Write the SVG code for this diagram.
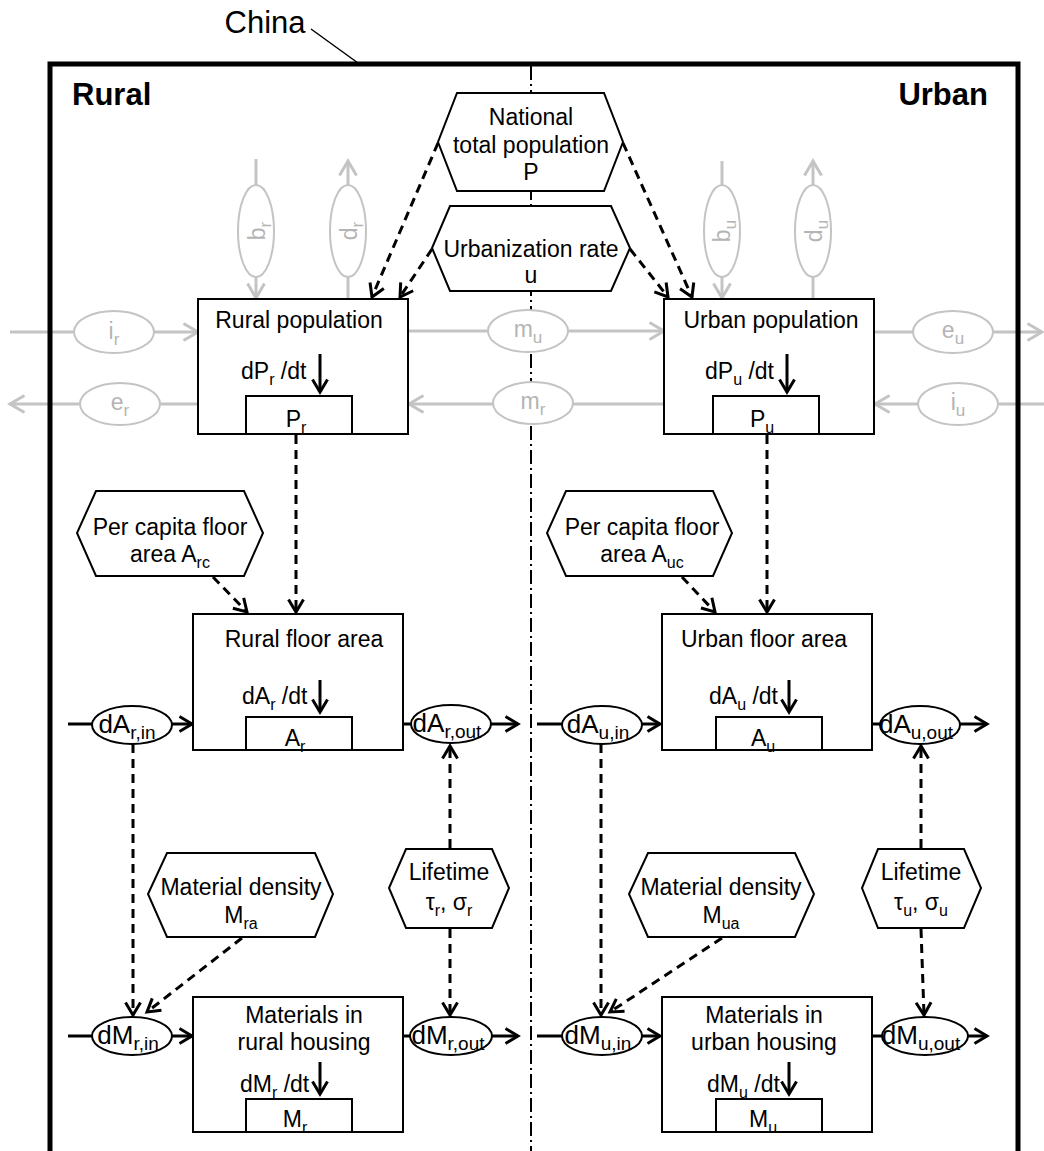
<svg xmlns="http://www.w3.org/2000/svg" width="1044" height="1151" viewBox="0 0 1044 1151">
<style>
text{font-family:"Liberation Sans",Arial,sans-serif;font-size:23px;fill:#000}
.c{text-anchor:middle}
.b{font-weight:bold;font-size:31px}
.gt{fill:#b4b4b4}
.el{font-size:26px}
.box{fill:#fff;stroke:#000;stroke-width:2}
.hex{fill:#fff;stroke:#000;stroke-width:2}
.be{fill:#fff;stroke:#000;stroke-width:2}
.ge{fill:#fff;stroke:#c4c4c4;stroke-width:2}
.gl{fill:none;stroke:#c4c4c4;stroke-width:3}
.fl{fill:none;stroke:#000;stroke-width:3}
.da{fill:none;stroke:#000;stroke-width:3;stroke-dasharray:9 6}
</style>
<defs>
<marker id="ak" viewBox="0 0 16 18" refX="14" refY="9" markerWidth="16" markerHeight="18" orient="auto" markerUnits="userSpaceOnUse" overflow="visible"><path d="M1.5,1.5 L14,9 L1.5,16.5" fill="none" stroke="#000" stroke-width="3" stroke-dasharray="none"/></marker>
<marker id="ag" viewBox="0 0 18 20" refX="16" refY="10" markerWidth="18" markerHeight="20" orient="auto" markerUnits="userSpaceOnUse" overflow="visible"><path d="M1.5,1.5 L16,10 L1.5,18.5" fill="none" stroke="#c4c4c4" stroke-width="3"/></marker>
</defs>
<rect width="1044" height="1151" fill="#fff"/>

<!-- center divider -->
<line x1="531" y1="66" x2="531" y2="1151" stroke="#000" stroke-width="2" stroke-dasharray="14 4 2 4"/>

<g id="connectors">
  <!-- gray population flows -->
  <line class="gl" x1="10" y1="332" x2="198" y2="332" marker-end="url(#ag)"/>
  <line class="gl" x1="198" y1="404" x2="10" y2="404" marker-end="url(#ag)"/>
  <line class="gl" x1="408" y1="331" x2="664" y2="331" marker-end="url(#ag)"/>
  <line class="gl" x1="664" y1="404" x2="409" y2="404" marker-end="url(#ag)"/>
  <line class="gl" x1="874" y1="332" x2="1042" y2="332" marker-end="url(#ag)"/>
  <line class="gl" x1="1044" y1="404" x2="875" y2="404" marker-end="url(#ag)"/>
  <line class="gl" x1="256" y1="159" x2="256" y2="298" marker-end="url(#ag)"/>
  <line class="gl" x1="348" y1="299" x2="348" y2="161" marker-end="url(#ag)"/>
  <line class="gl" x1="722" y1="161" x2="722" y2="298" marker-end="url(#ag)"/>
  <line class="gl" x1="813" y1="299" x2="813" y2="161" marker-end="url(#ag)"/>
  <!-- dashed info links -->
  <line class="da" x1="438" y1="143" x2="372" y2="297" marker-end="url(#ak)"/>
  <line class="da" x1="432" y1="249" x2="400" y2="297" marker-end="url(#ak)"/>
  <line class="da" x1="623" y1="143" x2="692" y2="297" marker-end="url(#ak)"/>
  <line class="da" x1="630" y1="249" x2="668" y2="297" marker-end="url(#ak)"/>
  <line class="da" x1="296" y1="435" x2="296" y2="612" marker-end="url(#ak)"/>
  <line class="da" x1="213" y1="577" x2="247" y2="612" marker-end="url(#ak)"/>
  <line class="da" x1="767" y1="435" x2="767" y2="612" marker-end="url(#ak)"/>
  <line class="da" x1="682" y1="577" x2="715" y2="612" marker-end="url(#ak)"/>
  <line class="da" x1="133" y1="744" x2="133" y2="1015" marker-end="url(#ak)"/>
  <line class="da" x1="242" y1="938" x2="147" y2="1012" marker-end="url(#ak)"/>
  <line class="da" x1="450" y1="848" x2="450" y2="746" marker-end="url(#ak)"/>
  <line class="da" x1="450" y1="929" x2="450" y2="1015" marker-end="url(#ak)"/>
  <line class="da" x1="601" y1="744" x2="601" y2="1015" marker-end="url(#ak)"/>
  <line class="da" x1="722" y1="938" x2="610" y2="1012" marker-end="url(#ak)"/>
  <line class="da" x1="921" y1="848" x2="921" y2="746" marker-end="url(#ak)"/>
  <line class="da" x1="921" y1="929" x2="924" y2="1015" marker-end="url(#ak)"/>
  <!-- black material flows -->
  <line class="fl" x1="68" y1="724" x2="192" y2="724" marker-end="url(#ak)"/>
  <line class="fl" x1="403" y1="724" x2="518" y2="724" marker-end="url(#ak)"/>
  <line class="fl" x1="537" y1="724" x2="660" y2="724" marker-end="url(#ak)"/>
  <line class="fl" x1="872" y1="724" x2="987" y2="724" marker-end="url(#ak)"/>
  <line class="fl" x1="68" y1="1036" x2="192" y2="1036" marker-end="url(#ak)"/>
  <line class="fl" x1="403" y1="1036" x2="518" y2="1036" marker-end="url(#ak)"/>
  <line class="fl" x1="537" y1="1036" x2="660" y2="1036" marker-end="url(#ak)"/>
  <line class="fl" x1="872" y1="1036" x2="987" y2="1036" marker-end="url(#ak)"/>
</g>

<!-- China frame -->
<g id="china">
  <path d="M50,1151 V64 H1018 V1151" fill="none" stroke="#000" stroke-width="5"/>
  <line x1="311" y1="29" x2="358" y2="63" stroke="#000" stroke-width="1.5"/>
  <text x="265" y="33" class="c" style="font-size:31px">China</text>
  <text x="72" y="105" class="b">Rural</text>
  <text x="988" y="105" class="b" text-anchor="end">Urban</text>
</g>

<g id="national-population">
  <polygon class="hex" points="457,93 604,93 623,142 604,191 457,191 438,142"/>
  <text x="531" y="125" class="c">National</text>
  <text x="531" y="153" class="c">total population</text>
  <text x="531" y="180" class="c">P</text>
</g>
<g id="urbanization-rate">
  <polygon class="hex" points="450,206 611,206 630,248 611,291 450,291 432,248"/>
  <text x="531" y="257" class="c">Urbanization rate</text>
  <text x="531" y="283" class="c">u</text>
</g>

<g id="rural-population">
  <rect class="box" x="198" y="299" width="210" height="135"/>
  <rect class="box" x="246" y="396" width="106" height="38"/>
  <line class="fl" x1="320" y1="354" x2="320" y2="392" marker-end="url(#ak)"/>
  <text x="299" y="328" class="c">Rural population</text>
  <text x="241" y="379">dP<tspan font-size="16" dy="6">r</tspan><tspan dy="-6"> /dt</tspan></text>
  <text x="296" y="427" class="c">P<tspan font-size="16" dy="6">r</tspan></text>
</g>
<g id="urban-population">
  <rect class="box" x="664" y="299" width="210" height="135"/>
  <rect class="box" x="713" y="396" width="106" height="38"/>
  <line class="fl" x1="787" y1="354" x2="787" y2="392" marker-end="url(#ak)"/>
  <text x="771" y="328" class="c">Urban population</text>
  <text x="705" y="379">dP<tspan font-size="16" dy="6">u</tspan><tspan dy="-6"> /dt</tspan></text>
  <text x="762" y="427" class="c">P<tspan font-size="16" dy="6">u</tspan></text>
</g>

<g id="ir"><ellipse class="ge" cx="114" cy="332" rx="40" ry="21"/><text x="114" y="339" class="c gt">i<tspan font-size="17" dy="6">r</tspan></text></g>
<g id="er"><ellipse class="ge" cx="120" cy="404" rx="40" ry="21"/><text x="120" y="410" class="c gt">e<tspan font-size="17" dy="6">r</tspan></text></g>
<g id="mu"><ellipse class="ge" cx="528" cy="331" rx="40" ry="21"/><text x="528" y="337" class="c gt">m<tspan font-size="17" dy="6">u</tspan></text></g>
<g id="mr"><ellipse class="ge" cx="533" cy="403" rx="40" ry="21"/><text x="533" y="409" class="c gt">m<tspan font-size="17" dy="6">r</tspan></text></g>
<g id="eu"><ellipse class="ge" cx="953" cy="332" rx="40" ry="21"/><text x="953" y="338" class="c gt">e<tspan font-size="17" dy="6">u</tspan></text></g>
<g id="iu"><ellipse class="ge" cx="958" cy="404" rx="40" ry="21"/><text x="958" y="410" class="c gt">i<tspan font-size="17" dy="6">u</tspan></text></g>
<g id="br"><ellipse class="ge" cx="256" cy="231" rx="18" ry="46"/><text transform="translate(265,231) rotate(-90)" class="c gt">b<tspan font-size="17" dy="6">r</tspan></text></g>
<g id="dr"><ellipse class="ge" cx="348" cy="231" rx="18" ry="46"/><text transform="translate(357,231) rotate(-90)" class="c gt">d<tspan font-size="17" dy="6">r</tspan></text></g>
<g id="bu"><ellipse class="ge" cx="722" cy="231" rx="18" ry="46"/><text transform="translate(730,231) rotate(-90)" class="c gt">b<tspan font-size="17" dy="6">u</tspan></text></g>
<g id="du"><ellipse class="ge" cx="813" cy="231" rx="18" ry="46"/><text transform="translate(822,231) rotate(-90)" class="c gt">d<tspan font-size="17" dy="6">u</tspan></text></g>

<g id="per-capita-rural">
  <polygon class="hex" points="96,491 244,491 263,533 244,576 96,576 77,533"/>
  <text x="170" y="535" class="c">Per capita floor</text>
  <text x="170" y="562" class="c">area A<tspan font-size="16" dy="6">rc</tspan></text>
</g>
<g id="per-capita-urban">
  <polygon class="hex" points="566,491 713,491 732,533 713,576 566,576 547,533"/>
  <text x="642" y="535" class="c">Per capita floor</text>
  <text x="642" y="562" class="c">area A<tspan font-size="16" dy="6">uc</tspan></text>
</g>

<g id="rural-floor-area">
  <rect class="box" x="193" y="614" width="210" height="136"/>
  <rect class="box" x="246" y="717" width="106" height="33"/>
  <line class="fl" x1="320" y1="680" x2="320" y2="712" marker-end="url(#ak)"/>
  <text x="304" y="647" class="c">Rural floor area</text>
  <text x="242" y="704">dA<tspan font-size="16" dy="6">r</tspan><tspan dy="-6"> /dt</tspan></text>
  <text x="295" y="746" class="c">A<tspan font-size="16" dy="6">r</tspan></text>
</g>
<g id="urban-floor-area">
  <rect class="box" x="662" y="614" width="210" height="136"/>
  <rect class="box" x="716" y="717" width="106" height="33"/>
  <line class="fl" x1="789" y1="680" x2="789" y2="712" marker-end="url(#ak)"/>
  <text x="764" y="647" class="c">Urban floor area</text>
  <text x="709" y="704">dA<tspan font-size="16" dy="6">u</tspan><tspan dy="-6"> /dt</tspan></text>
  <text x="763" y="746" class="c">A<tspan font-size="16" dy="6">u</tspan></text>
</g>

<g id="dAr-in"><ellipse class="be" cx="132" cy="725" rx="40" ry="19"/><text x="127" y="733" class="c el">dA<tspan font-size="19" dy="6">r,in</tspan></text></g>
<g id="dAr-out"><ellipse class="be" cx="451" cy="724" rx="40" ry="19"/><text x="447" y="732" class="c el">dA<tspan font-size="19" dy="6">r,out</tspan></text></g>
<g id="dAu-in"><ellipse class="be" cx="602" cy="725" rx="40" ry="19"/><text x="598" y="733" class="c el">dA<tspan font-size="19" dy="6">u,in</tspan></text></g>
<g id="dAu-out"><ellipse class="be" cx="920" cy="725" rx="40" ry="19"/><text x="916" y="733" class="c el">dA<tspan font-size="19" dy="6">u,out</tspan></text></g>

<g id="material-density-rural">
  <polygon class="hex" points="167,853 315,853 333,894 315,937 167,937 148,894"/>
  <text x="241" y="895" class="c">Material density</text>
  <text x="241" y="923" class="c">M<tspan font-size="16" dy="6">ra</tspan></text>
</g>
<g id="lifetime-rural">
  <polygon class="hex" points="406,849 492,849 509,888 492,928 406,928 389,888"/>
  <text x="449" y="880" class="c">Lifetime</text>
  <text x="449" y="910" class="c">τ<tspan font-size="16" dy="6">r</tspan><tspan dy="-6">, σ</tspan><tspan font-size="16" dy="6">r</tspan></text>
</g>
<g id="material-density-urban">
  <polygon class="hex" points="648,853 795,853 814,894 795,937 648,937 629,894"/>
  <text x="721" y="895" class="c">Material density</text>
  <text x="721" y="923" class="c">M<tspan font-size="16" dy="6">ua</tspan></text>
</g>
<g id="lifetime-urban">
  <polygon class="hex" points="878,849 964,849 981,888 964,928 878,928 862,888"/>
  <text x="921" y="880" class="c">Lifetime</text>
  <text x="921" y="910" class="c">τ<tspan font-size="16" dy="6">u</tspan><tspan dy="-6">, σ</tspan><tspan font-size="16" dy="6">u</tspan></text>
</g>

<g id="rural-materials">
  <rect class="box" x="193" y="997" width="210" height="135"/>
  <rect class="box" x="246" y="1099" width="106" height="33"/>
  <line class="fl" x1="320" y1="1062" x2="320" y2="1094" marker-end="url(#ak)"/>
  <text x="304" y="1023" class="c">Materials in</text>
  <text x="304" y="1050" class="c">rural housing</text>
  <text x="240" y="1092">dM<tspan font-size="16" dy="6">r</tspan><tspan dy="-6"> /dt</tspan></text>
  <text x="295" y="1127" class="c">M<tspan font-size="16" dy="6">r</tspan></text>
</g>
<g id="urban-materials">
  <rect class="box" x="662" y="997" width="210" height="135"/>
  <rect class="box" x="716" y="1099" width="106" height="33"/>
  <line class="fl" x1="789" y1="1062" x2="789" y2="1094" marker-end="url(#ak)"/>
  <text x="764" y="1023" class="c">Materials in</text>
  <text x="764" y="1050" class="c">urban housing</text>
  <text x="707" y="1092">dM<tspan font-size="16" dy="6">u</tspan><tspan dy="-6"> /dt</tspan></text>
  <text x="763" y="1127" class="c">M<tspan font-size="16" dy="6">u</tspan></text>
</g>

<g id="dMr-in"><ellipse class="be" cx="132" cy="1036" rx="40" ry="19"/><text x="128" y="1044" class="c el">dM<tspan font-size="19" dy="6">r,in</tspan></text></g>
<g id="dMr-out"><ellipse class="be" cx="451" cy="1036" rx="41" ry="19"/><text x="448" y="1044" class="c el">dM<tspan font-size="19" dy="6">r,out</tspan></text></g>
<g id="dMu-in"><ellipse class="be" cx="602" cy="1036" rx="40" ry="19"/><text x="598" y="1044" class="c el">dM<tspan font-size="19" dy="6">u,in</tspan></text></g>
<g id="dMu-out"><ellipse class="be" cx="925" cy="1036" rx="43" ry="19"/><text x="921" y="1044" class="c el">dM<tspan font-size="19" dy="6">u,out</tspan></text></g>
</svg>
